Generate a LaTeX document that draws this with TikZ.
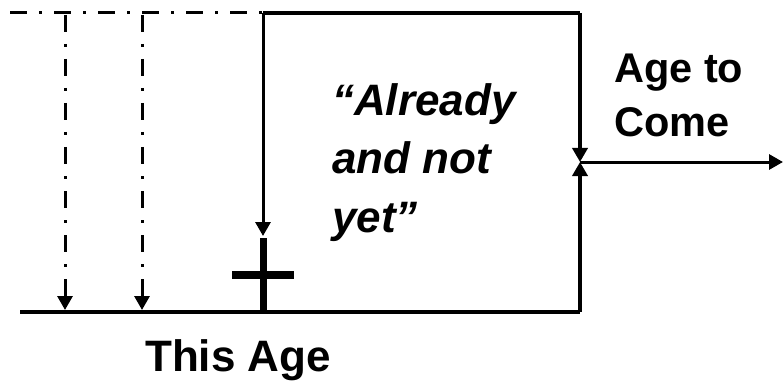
\documentclass[tikz,border=0pt]{standalone}
\usepackage{fontspec}
\setmainfont{Liberation Sans}
\usetikzlibrary{arrows.meta}
\tikzset{
  ageline/.style={line width=4pt},
  hope/.style={line width=3pt,dash pattern=on 17pt off 12pt on 3pt off 12pt},
  tip/.style={-{Triangle[length=14pt,width=15pt]}},
  label/.style={inner sep=0pt,font=\bfseries}
}
\begin{document}
\begin{tikzpicture}[x=1pt,y=-1pt]
  \useasboundingbox (0,0) rectangle (783,382);
  % Points on the two ages
  \coordinate (promise) at (10,13);
  \coordinate (advent) at (263,13);
  \coordinate (topend) at (580,13);
  \coordinate (now) at (20,312);
  \coordinate (cross) at (263,312);
  \coordinate (crossarm) at (263,275);
  \coordinate (nowend) at (580,312);
  \coordinate (return) at (580,162);
  \coordinate (future) at (783,162);
  % Age to come, foreseen and then begun
  \draw[hope] (promise) -- (advent);
  \draw[ageline] (advent) -- (topend);
  % This age
  \draw[ageline] (now) -- (nowend);
  % Prophetic glimpses
  \foreach \x in {65,142}%
    \draw[hope,tip] (\x,15) -- (\x,310);
  % Incarnation and cross
  \draw[line width=3pt,tip] (advent) -- (263,236);
  \draw[line width=7pt] (263,238) -- (cross);
  \draw[line width=8pt] ([xshift=-31pt]crossarm) -- ([xshift=31pt]crossarm);
  % Second coming
  \draw[line width=3.5pt,tip] (topend) -- (return);
  \draw[line width=3.5pt,tip] (nowend) -- (return);
  \draw[line width=3pt,tip] (return) -- (future);
  % Labels
  \node[label,anchor=base west,font=\bfseries\fontsize{44}{54}\selectfont] (thisage) at (145,371) {This Age};
  \node[label,anchor=base west,align=left,font=\bfseries\itshape\fontsize{44}{58.5}\selectfont] (already) at (332,232) {“Already\\and not\\yet”};
  \node[label,anchor=base west,align=left,font=\bfseries\fontsize{41.5}{54}\selectfont] (agetocome) at (614,137) {Age to\\Come};
\end{tikzpicture}
\end{document}
